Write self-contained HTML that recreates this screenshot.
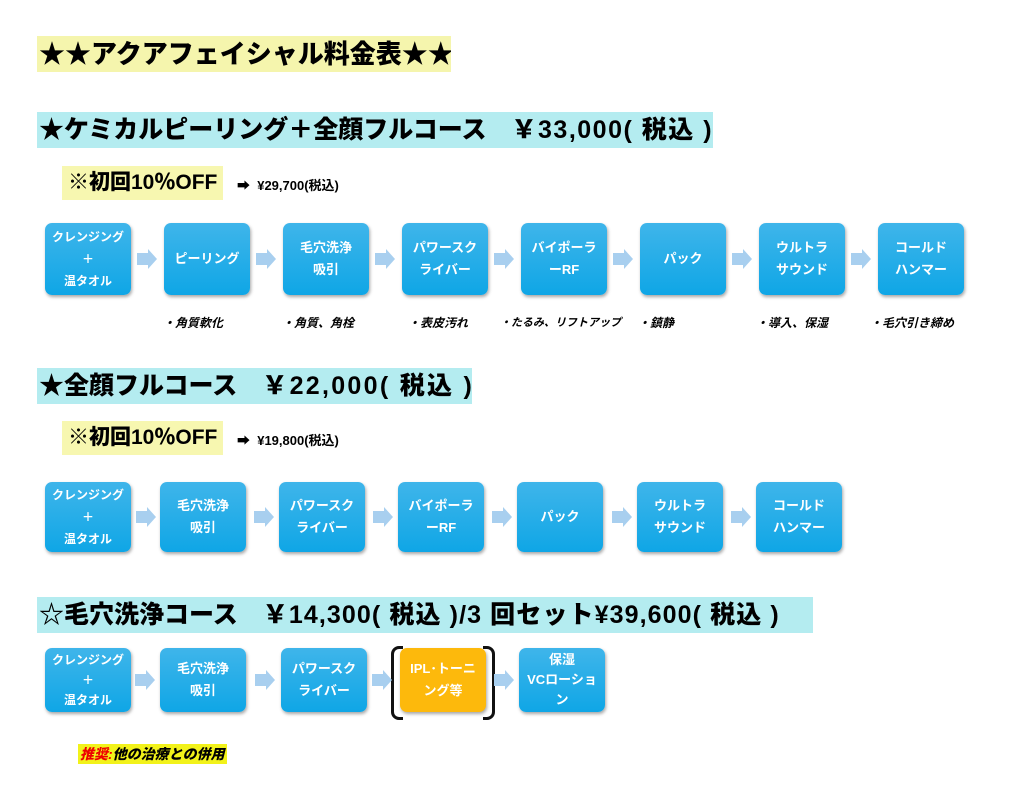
<!DOCTYPE html>
<html><head><meta charset="utf-8"><style>
body{margin:0;width:1024px;height:802px;background:#fff;position:relative;overflow:hidden;font-family:"Liberation Sans","Noto Sans CJK JP",sans-serif;}
.a{position:absolute;}
.h{position:absolute;font-weight:900;font-size:25px;line-height:36px;color:#000;padding-left:2px;white-space:nowrap;overflow:hidden;}
.p{letter-spacing:1.5px;}
.b{position:absolute;width:86px;height:72px;border-radius:7px;background:linear-gradient(#3fb5ea,#0fa6e6);box-shadow:1px 2px 3px rgba(0,0,0,.35);color:#fff;font-weight:bold;font-size:13px;display:flex;align-items:center;justify-content:center;text-align:center;line-height:22px;}
.ar{position:absolute;width:0;height:0;}
.ar:before{content:"";position:absolute;left:0;top:-6px;width:11px;height:12px;background:#a8cfef;}
.ar:after{content:"";position:absolute;left:11px;top:-10px;border-left:9px solid #a8cfef;border-top:10px solid transparent;border-bottom:10px solid transparent;}
.n{position:absolute;font-size:12px;font-style:italic;font-weight:bold;white-space:nowrap;}
.off{position:absolute;font-weight:900;font-size:21px;background:#f7f7b0;padding:0 6px;line-height:34px;}
.pr{position:absolute;font-size:13px;font-weight:bold;}
</style></head><body>
<div class="h" style="left:37px;top:36px;background:#f5f5ad;width:412px;font-size:26px;">★★アクアフェイシャル料金表★★</div>
<div class="h" style="left:37px;top:112px;background:#b4ecf0;width:674px;">★ケミカルピーリング＋全顔フルコース　<span class="p">￥33,000( 税込 )</span></div>
<div class="off" style="left:62px;top:166px;">※初回10％OFF</div>
<div class="pr" style="left:237px;top:175px;">➡ &nbsp;¥29,700(税込)</div>

<div class="b" style="left:45px;top:223px;font-size:12px;">クレンジング<br>＋<br>温タオル</div>
<div class="b" style="left:164px;top:223px;">ピーリング</div>
<div class="b" style="left:283px;top:223px;">毛穴洗浄<br>吸引</div>
<div class="b" style="left:402px;top:223px;">パワースク<br>ライバー</div>
<div class="b" style="left:521px;top:223px;">バイポーラ<br>ーRF</div>
<div class="b" style="left:640px;top:223px;">パック</div>
<div class="b" style="left:759px;top:223px;">ウルトラ<br>サウンド</div>
<div class="b" style="left:878px;top:223px;">コールド<br>ハンマー</div>
<div class="ar" style="left:137px;top:259px"></div><div class="ar" style="left:256px;top:259px"></div><div class="ar" style="left:375px;top:259px"></div><div class="ar" style="left:494px;top:259px"></div><div class="ar" style="left:613px;top:259px"></div><div class="ar" style="left:732px;top:259px"></div><div class="ar" style="left:851px;top:259px"></div>
<div class="n" style="left:163px;top:314px;">・角質軟化</div>
<div class="n" style="left:282px;top:314px;">・角質、角栓</div>
<div class="n" style="left:408px;top:314px;">・表皮汚れ</div>
<div class="n" style="left:500px;top:314px;font-size:11px;">・たるみ、リフトアップ</div>
<div class="n" style="left:638px;top:314px;">・鎮静</div>
<div class="n" style="left:756px;top:314px;">・導入、保湿</div>
<div class="n" style="left:870px;top:314px;">・毛穴引き締め</div>

<div class="h" style="left:37px;top:368px;background:#b4ecf0;width:433px;">★全顔フルコース　<span class="p" style="letter-spacing:2.3px">￥22,000( 税込 )</span></div>
<div class="off" style="left:62px;top:421px;">※初回10％OFF</div>
<div class="pr" style="left:237px;top:430px;">➡ &nbsp;¥19,800(税込)</div>

<div class="b" style="left:45px;top:482px;height:70px;font-size:12px;">クレンジング<br>＋<br>温タオル</div>
<div class="b" style="left:160px;top:482px;height:70px;">毛穴洗浄<br>吸引</div>
<div class="b" style="left:279px;top:482px;height:70px;">パワースク<br>ライバー</div>
<div class="b" style="left:398px;top:482px;height:70px;">バイポーラ<br>ーRF</div>
<div class="b" style="left:517px;top:482px;height:70px;">パック</div>
<div class="b" style="left:637px;top:482px;height:70px;">ウルトラ<br>サウンド</div>
<div class="b" style="left:756px;top:482px;height:70px;">コールド<br>ハンマー</div>
<div class="ar" style="left:136px;top:517px"></div><div class="ar" style="left:254px;top:517px"></div><div class="ar" style="left:373px;top:517px"></div><div class="ar" style="left:492px;top:517px"></div><div class="ar" style="left:612px;top:517px"></div><div class="ar" style="left:731px;top:517px"></div>

<div class="h" style="left:37px;top:597px;background:#b4ecf0;width:774px;">☆毛穴洗浄コース　<span class="p" style="letter-spacing:1.1px">￥14,300( 税込 )/3 回セット¥39,600( 税込 )</span></div>
<div class="b" style="left:45px;top:648px;height:64px;font-size:12px;line-height:20px;">クレンジング<br>＋<br>温タオル</div>
<div class="b" style="left:160px;top:648px;height:64px;">毛穴洗浄<br>吸引</div>
<div class="b" style="left:281px;top:648px;height:64px;">パワースク<br>ライバー</div>
<div class="b" style="left:400px;top:648px;height:64px;background:#fdb90c;">IPL･トーニ<br>ング等</div>
<div class="a" style="left:391px;top:646px;width:98px;height:68px;border:3px solid #111;border-radius:8px;clip-path:polygon(0 0,12px 0,12px 100%,0 100%,0 0,100% 0,100% 100%,calc(100% - 12px) 100%,calc(100% - 12px) 0);"></div>
<div class="b" style="left:519px;top:648px;height:64px;line-height:20px;">保湿<br>VCローショ<br>ン</div>
<div class="ar" style="left:135px;top:680px"></div><div class="ar" style="left:255px;top:680px"></div><div class="ar" style="left:372px;top:680px"></div><div class="ar" style="left:494px;top:680px"></div>

<div class="a" style="left:78px;top:744px;background:#f2f21a;font-size:14px;font-weight:900;font-style:italic;line-height:20px;padding:0 2px;"><span style="color:#e00">推奨:</span>他の治療との併用</div>
</body></html>
